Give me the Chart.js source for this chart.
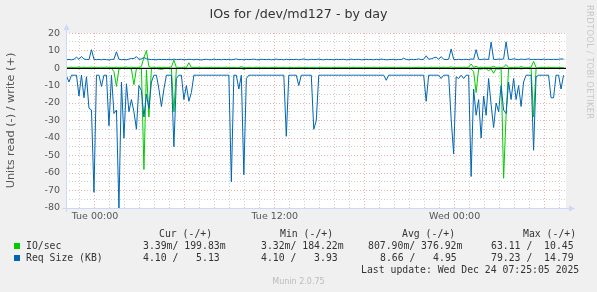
<!DOCTYPE html>
<html><head><meta charset="utf-8">
<script src="https://cdn.jsdelivr.net/npm/chart.js@4.4.1/dist/chart.umd.min.js"></script>
<style>
html,body{margin:0;padding:0;background:#f0f0f0;}
#wrap{position:relative;width:597px;height:292px;overflow:hidden;background:#f0f0f0;}
#c{position:absolute;left:0;top:0;}
.m{position:absolute;white-space:pre;font-family:"DejaVu Sans Mono",monospace;font-size:9.8px;line-height:12px;color:#333;}
.sq{position:absolute;width:6px;height:6px;}
#foot{position:absolute;left:0;width:597px;top:277px;text-align:center;font-family:"DejaVu Sans",sans-serif;font-size:8px;line-height:10px;color:#bbb;}
#wm{position:absolute;left:585px;top:5px;writing-mode:vertical-rl;font-family:"DejaVu Sans",sans-serif;font-size:8.4px;color:#c8c8c8;letter-spacing:0.3px;}
</style></head><body>
<div id="wrap">
<canvas id="c" width="597" height="292"></canvas>
<div id="wm">RRDTOOL / TOBI OETIKER</div>
<div id="legend"></div>
<div id="foot">Munin 2.0.75</div>
</div>
<script>
// ---- data (10-minute samples, hours relative to Tue 00:00) ----
const startHour = -1.9;
const stepHour = 1 / 6;

// IO/sec write (+)
const ioWrite = [
0.4,0.3,0.5,0.2,0.4,0.6,0.3,0.5,0.2,0.4,
0.5,0.3,0.4,0.2,0.5,0.3,0.6,0.2,0.4,0.3,
0.5,0.2,0.4,0.3,0.6,0.2,0.5,0.3,0.4,0.2,
1.0,6.0,10.0,0.8,0.3,0.5,0.2,0.4,0.3,0.5,
0.2,0.4,0.6,4.5,0.3,0.4,0.2,0.5,0.3,3.0,
0.3,0.4,0.2,0.5,0.3,0.2,0.4,0.3,0.5,0.2,
0.3,0.4,0.2,0.3,0.5,0.2,0.3,0.4,0.2,0.3,
0.8,0.3,0.2,0.4,0.3,0.2,0.5,0.3,0.2,0.4,
0.3,0.2,0.4,0.3,0.5,0.2,0.3,0.4,0.2,0.3,
0.4,0.2,0.3,0.5,0.2,0.3,0.4,0.2,0.3,0.4,
0.2,0.3,0.5,0.2,0.4,0.3,0.2,0.4,0.3,0.5,
0.2,0.3,0.4,0.2,0.3,0.5,0.2,0.4,0.3,0.2,
0.4,0.3,0.2,0.5,0.3,0.2,0.4,0.3,0.5,0.2,
0.3,0.4,0.2,0.3,0.5,0.2,0.4,0.3,0.2,0.4,
0.3,0.5,0.2,0.4,0.3,0.2,0.5,0.3,0.4,0.2,
0.3,0.5,0.2,0.4,0.6,0.3,0.2,0.4,0.3,0.5,
0.3,0.5,2.3,0.4,1.0,0.3,0.5,0.2,0.4,0.3,
0.5,1.0,0.3,0.4,0.2,0.6,2.0,0.3,0.4,0.2,
0.5,0.3,0.8,0.4,0.2,0.3,0.5,3.8,0.3,0.2,
0.4,0.3,0.2,0.5,0.3,0.4,0.2,0.3,0.4,0.2
];
// IO/sec read (-), magnitudes
const ioRead = [
0.2,0.3,0.1,0.2,0.2,0.4,0.2,0.3,0.1,0.3,
0.4,0.2,0.1,0.2,0.3,0.1,0.2,0.4,0.2,2,
10.5,0.5,0.3,0.2,0.4,0.3,0.6,9.5,0.4,0.3,
0.5,58,1,28,0.4,0.2,0.3,0.5,0.8,0.4,
0.2,0.3,0.4,25,0.3,0.2,0.2,0.3,0.4,0.3,
0.2,0.1,0.1,0.2,0.1,0.1,0.1,0.1,0.1,0.1,
0.1,0.1,0.1,0.1,0.1,0.1,0.3,0.1,0.1,0.2,
0.1,0.8,0.2,0.1,0.1,0.1,0.1,0.1,0.1,0.1,
0.1,0.1,0.1,0.1,0.1,0.1,0.1,0.1,0.3,0.1,
0.1,0.1,0.1,0.2,0.1,0.1,0.1,0.1,0.1,0.4,
0.3,0.1,0.1,0.1,0.1,0.1,0.1,0.1,0.1,0.1,
0.1,0.1,0.1,0.1,0.1,0.1,0.1,0.1,0.1,0.1,
0.1,0.1,0.1,0.1,0.1,0.1,0.1,0.1,0.2,0.1,
0.1,0.1,0.1,0.1,0.1,0.1,0.1,0.1,0.1,0.1,
0.1,0.1,0.1,0.1,0.2,0.1,0.1,0.1,0.1,0.1,
0.1,0.1,0.1,0.1,0.3,0.5,0.1,0.1,0.1,0.1,
0.1,0.2,0.5,2,14,0.5,0.6,0.3,0.4,1.5,
0.5,3,0.4,0.6,0.3,63,27,0.3,0.5,0.3,
0.4,0.3,0.5,0.3,0.2,0.1,0.2,28,0.3,0.1,
0.1,0.1,0.1,0.1,0.2,0.2,0.1,0.1,0.1,0.1
];
// Req Size (KB) write (+)
const reqWrite = [
4.8,4.9,4.7,5.0,6.2,5.0,6.6,5.1,4.9,4.8,
10.5,5.0,4.8,4.9,4.7,5.0,4.8,4.6,4.9,5.0,
9.3,5.0,4.8,4.9,4.7,5.1,5.5,5.4,6.5,5.0,
5.2,6.0,5.3,5.0,4.8,4.9,4.7,5.0,4.8,4.9,
4.8,5.0,4.7,5.1,4.8,4.9,5.0,4.7,4.8,5.0,
4.9,4.7,5.0,4.8,4.6,4.9,5.0,4.8,4.7,5.1,
4.8,4.9,4.7,5.0,4.8,5.0,4.7,4.9,5.2,4.8,
4.9,4.7,5.0,4.8,4.9,5.1,4.8,4.7,5.0,4.9,
4.8,5.0,4.7,4.9,5.1,4.8,4.9,4.7,5.0,4.8,
4.9,4.8,5.0,4.7,4.9,5.2,4.8,4.7,5.0,4.8,
4.9,5.1,4.8,4.7,5.0,4.8,4.9,4.7,5.0,4.8,
4.9,5.0,4.7,4.8,5.1,4.8,4.9,5.0,4.7,4.8,
5.0,4.8,4.9,4.7,5.0,4.8,5.1,4.9,4.7,4.8,
4.9,5.0,4.7,4.9,4.8,5.6,4.9,4.7,5.0,4.8,
4.9,5.2,4.8,5.0,7.0,5.0,5.3,5.8,6.2,5.0,
6.5,5.0,4.8,5.0,10.9,5.0,4.8,5.0,4.8,4.9,
5.0,4.8,5.2,5.0,10.5,5.0,4.8,5.1,5.0,4.9,
14.8,5.0,4.9,5.1,5.0,5.2,15.0,5.0,4.9,5.3,
5.0,4.8,5.1,4.9,5.0,5.3,4.8,5.0,4.9,5.0,
4.8,5.1,4.9,5.0,4.8,5.0,4.9,5.0,5.2,5.1
];
// Req Size (KB) read (-), magnitudes
const reqRead = [
4.5,8,4.1,4.1,4.1,16,4.1,17,5,23,
24,71,4.1,4.1,10.5,4.1,4.1,33,4.1,26,
24,80,8,40,9,25,18,25,35,10,
13,28,15,23,8,4.1,4.1,12,22,12,
4.1,4.1,4.1,45,6,4.1,4.1,18,10,19,
14,4.1,4.1,4.1,4.1,4.1,4.1,4.1,4.1,4.1,
4.1,4.1,4.1,4.1,4.1,4.1,65,4.1,4.1,12,
4.1,61,6,4.1,4.1,4.1,4.1,4.1,4.1,4.1,
4.1,4.1,4.1,4.1,4.1,4.1,4.1,4.1,39,4.1,
4.1,4.1,4.1,10,4.1,4.1,4.1,4.1,4.1,35,
30,4.1,4.1,4.1,4.1,4.1,4.1,4.1,4.1,4.1,
4.1,4.1,4.1,4.1,4.1,4.1,4.1,4.1,4.1,4.1,
4.1,4.1,4.1,4.1,4.1,4.1,4.1,4.1,7,4.1,
4.1,4.1,4.1,4.1,4.1,4.1,4.1,4.1,4.1,4.1,
4.1,4.1,4.1,4.1,19,4.1,4.1,4.1,4.1,4.1,
6,4.1,4.1,4.1,29,49,5,6,4.1,6,
4.1,4.1,62,12,27,18,40,16,27,6,
21,34,20,25,10,24,26,8,18,6,
18,10,22,8,4.1,4.1,4.1,47,5,4.1,
4.1,4.1,4.1,4.1,17,17,4.1,4.1,12,4.1
];

const xTickHours = [0, 12, 24];
const xTickLabels = ['Tue 00:00', 'Tue 12:00', 'Wed 00:00'];
const yTickValues = [20, 10, 0, -10, -20, -30, -40, -50, -60, -70, -80];

const legendHeaders = ['Cur (-/+)', 'Min (-/+)', 'Avg (-/+)', 'Max (-/+)'];
const seriesNames = ['IO/sec', 'Req Size (KB)'];
const seriesColors = ['#00cc00', '#0066b3'];
const ioStats = ['3.39m/ 199.83m', '3.32m/ 184.22m', '807.90m/ 376.92m', '63.11 /  10.45'];
const reqStats = ['4.10 /   5.13', '4.10 /   3.93', '8.66 /   4.95', '79.23 /  14.79'];
const lastUpdate = 'Last update: Wed Dec 24 07:25:05 2025';

// ---- legend (HTML text) ----
const lg = document.getElementById('legend');
function addText(txt, left, top, cls) {
  const d = document.createElement('div');
  d.className = cls || 'm';
  d.style.left = left + 'px'; d.style.top = top + 'px';
  d.textContent = txt; lg.appendChild(d); return d;
}
const headX = [159, 280, 402, 523];
legendHeaders.forEach((h, k) => addText(h, headX[k], 227.5));
const colX1 = [143, 261, 368, 491];
const colX2 = [143, 261, 380, 491];
[ioStats, reqStats].forEach((row, r) => {
  const top = 239.5 + r * 12.5;
  const sq = document.createElement('div');
  sq.className = 'sq'; sq.style.left = '14px'; sq.style.top = (top + 3) + 'px';
  sq.style.background = seriesColors[r]; lg.appendChild(sq);
  addText(seriesNames[r], 26, top);
  row.forEach((s, k) => addText(s, (r === 0 ? colX1 : colX2)[k], top));
});
addText(lastUpdate, 361, 264);

// ---- chart ----
const times = reqWrite.map((_, i) => startHour + i * stepHour);
const neg = a => a.map(v => -v);

const bgPlugin = {
  id: 'bg',
  beforeDraw(chart) {
    const {ctx, chartArea: a} = chart;
    ctx.save();
    ctx.fillStyle = '#f0f0f0'; ctx.fillRect(0, 0, chart.width, chart.height);
    ctx.fillStyle = '#ffffff'; ctx.fillRect(a.left, a.top, a.right - a.left, a.bottom - a.top);
    ctx.restore();
  },
  afterDatasetDraw(chart, args) {
    if (args.index !== 3) return;   // after the IO/sec read line: zero rule
    const {ctx, chartArea: a, scales} = chart;
    const y0 = scales.y.getPixelForValue(0);
    ctx.save();
    ctx.strokeStyle = '#000'; ctx.lineWidth = 1.2;
    ctx.beginPath(); ctx.moveTo(a.left, y0 + 0.3); ctx.lineTo(a.right, y0 + 0.3); ctx.stroke();
    ctx.restore();
  },
  afterDatasetsDraw(chart) {
    const {ctx, chartArea: a} = chart;
    ctx.save();
    ctx.strokeStyle = '#CFD6F8'; ctx.fillStyle = '#CFD6F8'; ctx.lineWidth = 1;
    const L = a.left + 0.5, B = Math.round(a.bottom) + 0.5;
    ctx.beginPath(); ctx.moveTo(L, a.bottom + 4); ctx.lineTo(L, a.top - 4); ctx.stroke();
    ctx.beginPath(); ctx.moveTo(a.left - 4, B); ctx.lineTo(a.right + 4, B); ctx.stroke();
    ctx.beginPath(); ctx.moveTo(L - 3, a.top - 3); ctx.lineTo(L + 3, a.top - 3); ctx.lineTo(L, a.top - 9); ctx.closePath(); ctx.fill();
    ctx.beginPath(); ctx.moveTo(a.right + 3, B - 3); ctx.lineTo(a.right + 3, B + 3); ctx.lineTo(a.right + 9, B); ctx.closePath(); ctx.fill();
    ctx.restore();
  }
};

const lineDs = (label, data, color, order) => ({
  label, data, borderColor: color, backgroundColor: color,
  borderWidth: 1, pointRadius: 0, tension: 0, fill: false, order
});

new Chart(document.getElementById('c'), {
  type: 'line',
  data: {
    labels: times,
    datasets: [
      lineDs('Req Size (KB) write', reqWrite, '#0066b3', 0),
      lineDs('Req Size (KB) read', neg(reqRead), '#0066b3', 1),
      lineDs('IO/sec write', ioWrite, '#00cc00', 2),
      lineDs('IO/sec read', neg(ioRead), '#00cc00', 3)
    ]
  },
  options: {
    responsive: false, animation: false, devicePixelRatio: 1,
    layout: {padding: {left: 0, right: 0, top: 0, bottom: 64}},
    plugins: {
      legend: {display: false}, tooltip: {enabled: false},
      title: {
        display: true, text: 'IOs for /dev/md127 - by day', color: '#333',
        font: {family: 'DejaVu Sans', size: 12.7, weight: 'normal', lineHeight: 1.2},
        padding: {top: 7, bottom: 10.8}
      }
    },
    scales: {
      x: {
        type: 'linear', min: -1.933, max: 31.43,
        afterFit: s => { s.height = 20; },
        grid: {
          color: c => (c.tick && c.tick.value % 6 === 0) ? 'rgba(235,120,120,0.6)' : 'rgba(175,175,175,0.6)',
          lineWidth: 1, drawTicks: false
        },
        border: {display: false, dash: [1, 2]},
        ticks: {
          stepSize: 1, autoSkip: false, maxRotation: 0, includeBounds: false, maxTicksLimit: 1000,
          padding: 3, color: '#555', font: {family: 'DejaVu Sans', size: 9.5},
          callback: v => { const k = xTickHours.indexOf(v); return k >= 0 ? xTickLabels[k] : ''; }
        }
      },
      y: {
        min: -80, max: 20,
        afterFit: s => { s.width = 66; },
        grid: {
          color: c => (c.tick && c.tick.value % 10 === 0) ? 'rgba(235,120,120,0.6)' : 'rgba(175,175,175,0.6)',
          lineWidth: 1, drawTicks: false
        },
        border: {display: false, dash: [1, 2]},
        title: {
          display: true, text: 'Units read (-) / write (+)', color: '#555',
          font: {family: 'DejaVu Sans', size: 11.3}, padding: {top: 4, bottom: 0}
        },
        ticks: {
          stepSize: 5, autoSkip: false, padding: 6, color: '#555',
          font: {family: 'DejaVu Sans', size: 9.5},
          callback: v => yTickValues.includes(v) ? String(v) : ''
        }
      },
      yr: {
        position: 'right', display: true,
        afterFit: s => { s.width = 31; },
        grid: {display: false, drawTicks: false}, border: {display: false},
        ticks: {display: false}
      }
    }
  },
  plugins: [bgPlugin]
});
</script>
</body></html>
